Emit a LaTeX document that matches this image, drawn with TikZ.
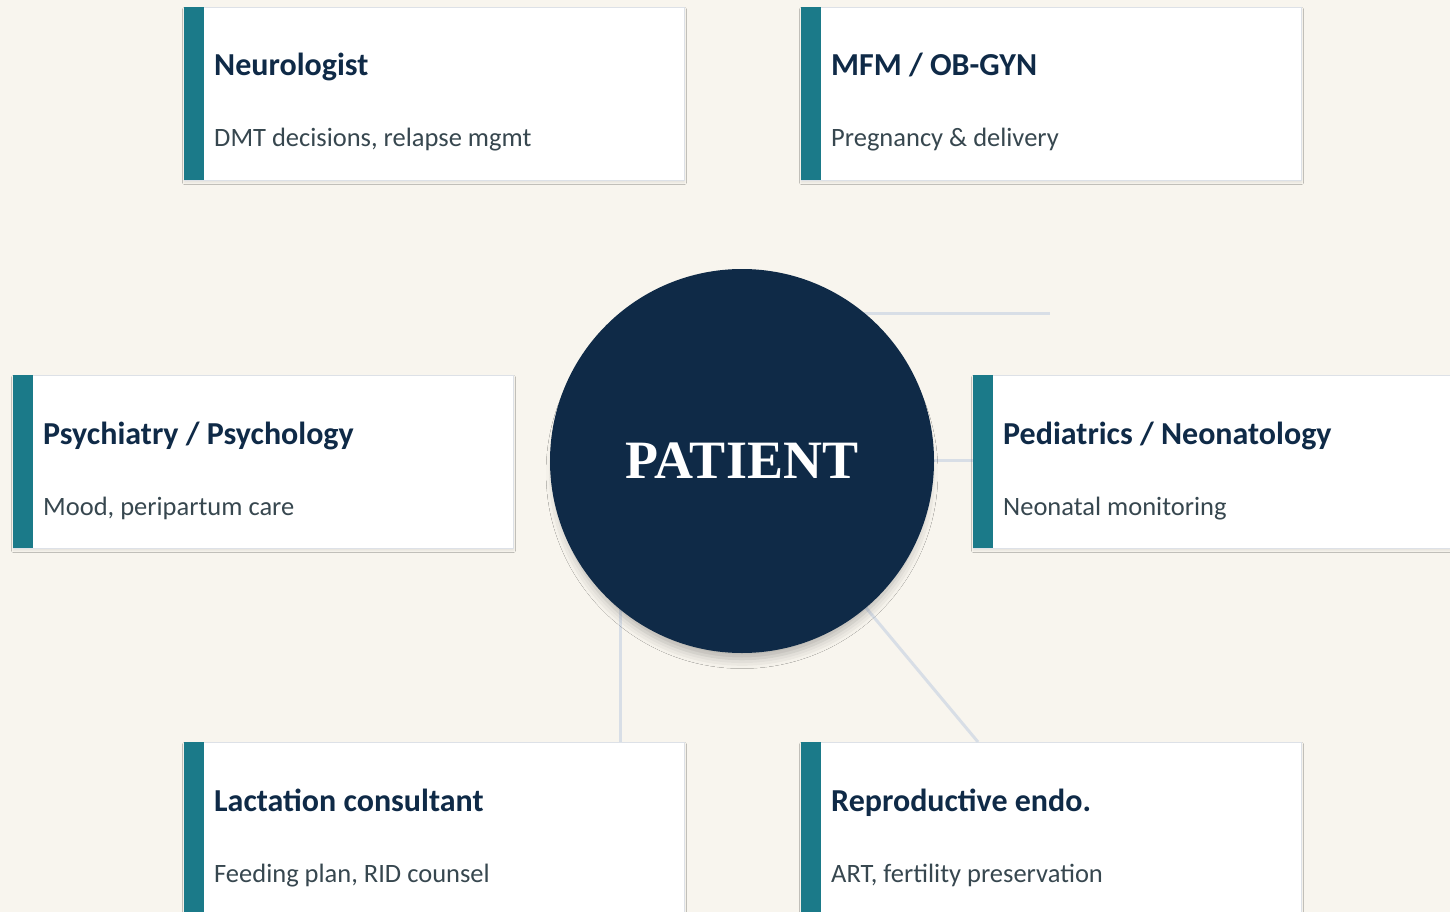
\documentclass[tikz,border=0pt]{standalone}
\usepackage{fontspec}
\setmainfont{Carlito}
\newfontfamily\hubfont{Liberation Serif}
\usetikzlibrary{positioning, calc, shadows.blur}

\definecolor{cream}{HTML}{F8F5EE}
\definecolor{navy}{HTML}{0F2A47}
\definecolor{accent}{HTML}{1B7A89}
\definecolor{linkc}{HTML}{D8DEE6}
\definecolor{cardline}{HTML}{DDE1E7}
\definecolor{subtext}{HTML}{37474F}

\begin{document}
\begin{tikzpicture}[
  x=1pt, y=-1pt,
  card/.style={draw=cardline, line width=1pt, fill=white, anchor=north west,
               minimum width=500, minimum height=173, inner sep=0pt,
               blur shadow={shadow xshift=0pt, shadow yshift=-2pt,
                            shadow blur radius=2pt, shadow opacity=8}},
  bar/.style={fill=accent},
  title/.style={anchor=base west, inner sep=0pt, text=navy,
                font=\bfseries\fontsize{32}{36}\selectfont},
  sub/.style={anchor=base west, inner sep=0pt, text=subtext,
              font=\fontsize{26.5}{30}\selectfont},
  link/.style={draw=linkc, line width=3pt},
  hub/.style={circle, fill=navy, minimum size=384, inner sep=0pt, text=white,
              font=\hubfont\bfseries\fontsize{54}{60}\selectfont,
              blur shadow={shadow xshift=0pt, shadow yshift=-12pt,
                           shadow scale=0.97, shadow blur radius=10pt,
                           shadow opacity=28}},
]

%% Page and background
\fill[cream] (0,0) rectangle (1450,912);
\useasboundingbox (0,0) rectangle (1450,912);

%% Spokes (behind everything)
\coordinate (spoke) at (620,313);
\coordinate (stub) at (1050,313);
\coordinate (hubw) at (551,460);

%% Specialist cards
\node[card] (neuro) at (184,7) {};
\fill[bar] (neuro.north west) rectangle ++(20,173);
\node[title] at ($(neuro.north west)+(30,69)$) {Neurologist};
\node[sub] at ($(neuro.north west)+(30,140)$) {DMT decisions, relapse mgmt};

\node[card] (mfm) at (801,7) {};
\fill[bar] (mfm.north west) rectangle ++(20,173);
\node[title] at ($(mfm.north west)+(30,69)$) {MFM / OB-GYN};
\node[sub] at ($(mfm.north west)+(30,140)$) {Pregnancy \& delivery};

\node[card] (psych) at (13,375) {};
\fill[bar] (psych.north west) rectangle ++(20,173);
\node[title] at ($(psych.north west)+(30,69)$) {Psychiatry / Psychology};
\node[sub] at ($(psych.north west)+(30,140)$) {Mood, peripartum care};

\node[card] (lact) at (184,742) {};
\node[card] (repro) at (801,742) {};

\draw[link] (spoke) -- (stub);
\draw[link] (spoke) -- (spoke |- lact.north);
\draw[link] (spoke) -- ($(repro.north west)+(177,0)$);
\draw[link] (hubw) -- (973,460) coordinate (pedw);

\node[card] (ped) at (973,375) {};
\fill[bar] (ped.north west) rectangle ++(20,173);
\node[title] at ($(ped.north west)+(30,69)$) {Pediatrics / Neonatology};
\node[sub] at ($(ped.north west)+(30,140)$) {Neonatal monitoring};

\fill[bar] (lact.north west) rectangle ++(20,173);
\node[title] at ($(lact.north west)+(30,69)$) {Lactation consultant};
\node[sub] at ($(lact.north west)+(30,140)$) {Feeding plan, RID counsel};

\fill[bar] (repro.north west) rectangle ++(20,173);
\node[title] at ($(repro.north west)+(30,69)$) {Reproductive endo.};
\node[sub] at ($(repro.north west)+(30,140)$) {ART, fertility preservation};

%% Patient hub
\node[hub] (patient) at (742,461) {PATIENT};

\end{tikzpicture}
\end{document}
